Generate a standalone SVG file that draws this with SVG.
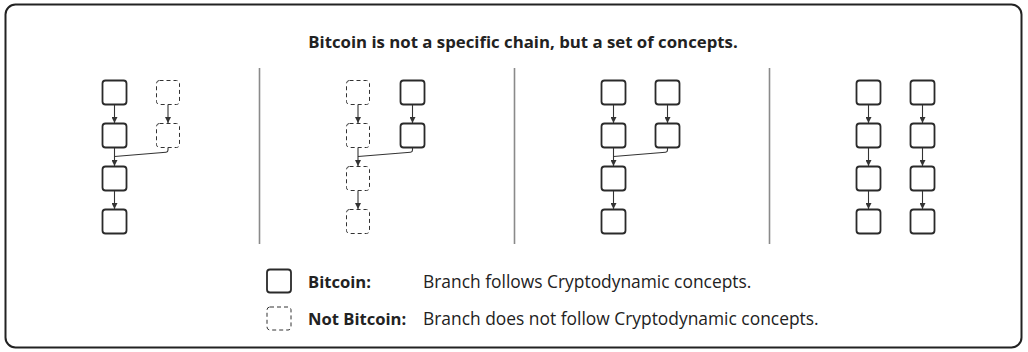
<svg xmlns="http://www.w3.org/2000/svg" width="1028" height="352" viewBox="0 0 1028 352">
<defs>
<marker id="ah" viewBox="0 0 10 10" refX="10" refY="5" markerWidth="6" markerHeight="6" markerUnits="userSpaceOnUse" orient="auto">
<path d="M0,0 L10,5 L0,10 z" fill="#333"/>
</marker>
<style>
.b{fill:#fff;stroke:#2a2a2a;stroke-width:1.8}
.d{fill:#fff;stroke:#333;stroke-width:1;stroke-dasharray:4 3}
.e{fill:none;stroke:#333;stroke-width:1.1}
.div{stroke:#8a8a8a;stroke-width:1.6}
.t{font-family:"Open Sans","Liberation Sans",sans-serif;fill:#222}
</style>
</defs>
<rect x="5.5" y="4.5" width="1016" height="343" rx="10" fill="#fff" stroke="#222" stroke-width="2"/>
<text class="t" x="523" y="48" font-size="16.8" font-weight="bold" text-anchor="middle">Bitcoin is not a specific chain, but a set of concepts.</text>
<g id="dividers">
<line class="div" x1="259.5" y1="68" x2="259.5" y2="244"/>
<line class="div" x1="514.5" y1="68" x2="514.5" y2="244"/>
<line class="div" x1="769.5" y1="68" x2="769.5" y2="244"/>
</g>
<g id="p1-nodes">
<rect id="p1a1" class="b" x="102.5" y="80.5" width="24" height="24" rx="3"/>
<rect id="p1a2" class="b" x="102.5" y="123.5" width="24" height="24" rx="3"/>
<rect id="p1a3" class="b" x="102.5" y="166.5" width="24" height="24" rx="3"/>
<rect id="p1a4" class="b" x="102.5" y="209.5" width="24" height="24" rx="3"/>
<rect id="p1b1" class="d" x="156.5" y="80.5" width="23" height="24" rx="3"/>
<rect id="p1b2" class="d" x="156.5" y="123.5" width="23" height="24" rx="3"/>
</g>
<g id="p2-nodes">
<rect id="p2a1" class="d" x="346.5" y="80.5" width="23" height="24" rx="3"/>
<rect id="p2a2" class="d" x="346.5" y="123.5" width="23" height="24" rx="3"/>
<rect id="p2a3" class="d" x="346.5" y="166.5" width="23" height="24" rx="3"/>
<rect id="p2a4" class="d" x="346.5" y="209.5" width="23" height="24" rx="3"/>
<rect id="p2b1" class="b" x="400.5" y="80.5" width="24" height="24" rx="3"/>
<rect id="p2b2" class="b" x="400.5" y="123.5" width="24" height="24" rx="3"/>
</g>
<g id="p3-nodes">
<rect id="p3a1" class="b" x="601.5" y="80.5" width="24" height="24" rx="3"/>
<rect id="p3a2" class="b" x="601.5" y="123.5" width="24" height="24" rx="3"/>
<rect id="p3a3" class="b" x="601.5" y="166.5" width="24" height="24" rx="3"/>
<rect id="p3a4" class="b" x="601.5" y="209.5" width="24" height="24" rx="3"/>
<rect id="p3b1" class="b" x="655.5" y="80.5" width="24" height="24" rx="3"/>
<rect id="p3b2" class="b" x="655.5" y="123.5" width="24" height="24" rx="3"/>
</g>
<g id="p4-nodes">
<rect id="p4a1" class="b" x="856.5" y="80.5" width="24" height="24" rx="3"/>
<rect id="p4a2" class="b" x="856.5" y="123.5" width="24" height="24" rx="3"/>
<rect id="p4a3" class="b" x="856.5" y="166.5" width="24" height="24" rx="3"/>
<rect id="p4a4" class="b" x="856.5" y="209.5" width="24" height="24" rx="3"/>
<rect id="p4b1" class="b" x="910.5" y="80.5" width="24" height="24" rx="3"/>
<rect id="p4b2" class="b" x="910.5" y="123.5" width="24" height="24" rx="3"/>
<rect id="p4b3" class="b" x="910.5" y="166.5" width="24" height="24" rx="3"/>
<rect id="p4b4" class="b" x="910.5" y="209.5" width="24" height="24" rx="3"/>
</g>
<g id="connectors">
<line class="e" x1="114.5" y1="105" x2="114.5" y2="123" marker-end="url(#ah)"/>
<line class="e" x1="114.5" y1="148" x2="114.5" y2="166" marker-end="url(#ah)"/>
<line class="e" x1="114.5" y1="191" x2="114.5" y2="209" marker-end="url(#ah)"/>
<line class="e" x1="168" y1="105" x2="168" y2="123" marker-end="url(#ah)"/>
<path class="e" d="M168,148 v2 q0,2 -2,2.2 L114.5,156.5"/>

<line class="e" x1="358" y1="105" x2="358" y2="123" marker-end="url(#ah)"/>
<line class="e" x1="358" y1="148" x2="358" y2="166" marker-end="url(#ah)"/>
<line class="e" x1="358" y1="191" x2="358" y2="209" marker-end="url(#ah)"/>
<line class="e" x1="412.5" y1="105" x2="412.5" y2="123" marker-end="url(#ah)"/>
<path class="e" d="M412.5,148 v2 q0,2 -2,2.2 L358,156.5"/>

<line class="e" x1="613.5" y1="105" x2="613.5" y2="123" marker-end="url(#ah)"/>
<line class="e" x1="613.5" y1="148" x2="613.5" y2="166" marker-end="url(#ah)"/>
<line class="e" x1="613.5" y1="191" x2="613.5" y2="209" marker-end="url(#ah)"/>
<line class="e" x1="667.5" y1="105" x2="667.5" y2="123" marker-end="url(#ah)"/>
<path class="e" d="M667.5,148 v2 q0,2 -2,2.2 L613.5,156.5"/>

<line class="e" x1="868.5" y1="105" x2="868.5" y2="123" marker-end="url(#ah)"/>
<line class="e" x1="868.5" y1="148" x2="868.5" y2="166" marker-end="url(#ah)"/>
<line class="e" x1="868.5" y1="191" x2="868.5" y2="209" marker-end="url(#ah)"/>
<line class="e" x1="922.5" y1="105" x2="922.5" y2="123" marker-end="url(#ah)"/>
<line class="e" x1="922.5" y1="148" x2="922.5" y2="166" marker-end="url(#ah)"/>
<line class="e" x1="922.5" y1="191" x2="922.5" y2="209" marker-end="url(#ah)"/>
</g>
<g id="legend">
<rect class="b" x="267" y="269.5" width="24" height="23" rx="3"/>
<rect class="d" x="267" y="307" width="24" height="23" rx="3"/>
<text class="t" x="308" y="288" font-size="16.6" font-weight="bold">Bitcoin:</text>
<text class="t" x="423" y="288" font-size="17.4">Branch follows Cryptodynamic concepts.</text>
<text class="t" x="308" y="325" font-size="16.6" font-weight="bold">Not Bitcoin:</text>
<text class="t" x="423" y="325" font-size="17.4">Branch does not follow Cryptodynamic concepts.</text>
</g>
</svg>
